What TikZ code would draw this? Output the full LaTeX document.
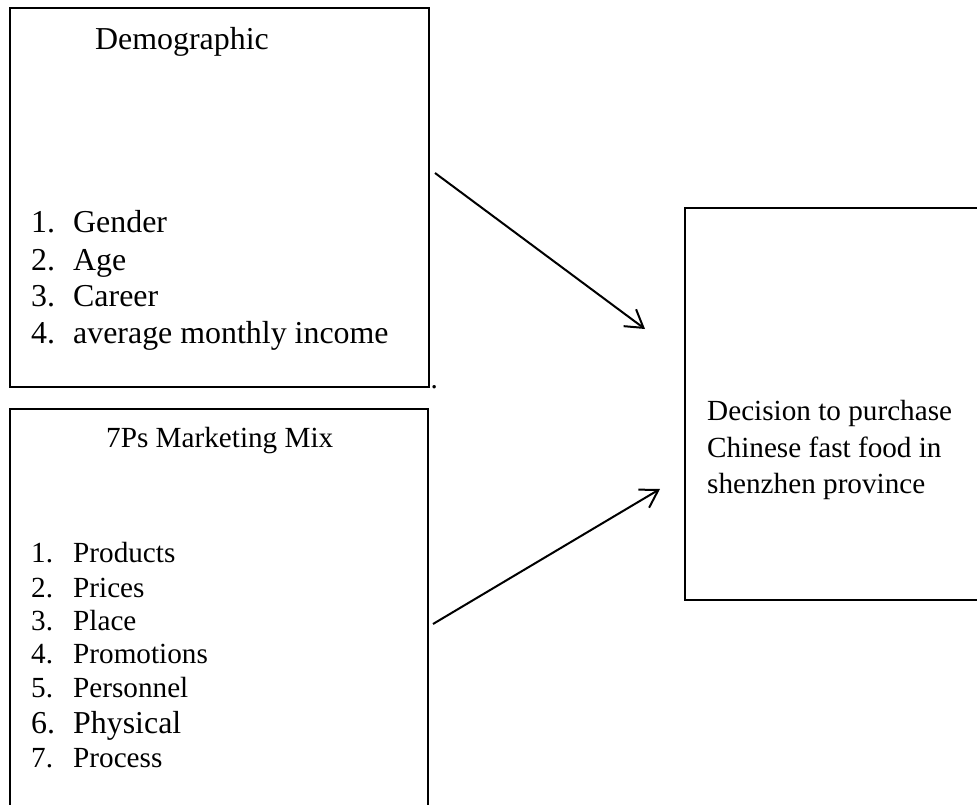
\documentclass[tikz,border=0pt]{standalone}
\usepackage{fontspec}
\setmainfont{Liberation Serif}
\usetikzlibrary{arrows.meta}
\begin{document}
\begin{tikzpicture}[x=1pt,y=-1pt,
  box/.style={draw, line width=2.2pt, rectangle, inner sep=0pt, outer sep=0pt},
  bigtxt/.style={anchor=base west, inner sep=0pt, font=\fontsize{31.9}{36}\selectfont},
  smalltxt/.style={anchor=base west, inner sep=0pt, font=\fontsize{29.2}{34}\selectfont},
  arr/.style={line width=2pt, -{Straight Barb[length=17pt,width=21pt]}}]
\useasboundingbox (0,0) rectangle (977,805);
\clip (0,0) rectangle (977,805);
% boxes
\node[box, minimum width=419pt, minimum height=379pt] (demo) at (219.5,197.5) {};
\node[box, minimum width=418pt, minimum height=430pt] (mix) at (219,624) {};
\node[box, minimum width=330pt, minimum height=392pt] (dec) at (850,404) {};
% demographic text
\node[bigtxt] (dt) at (95,50) {Demographic};
\node[bigtxt] (dn1) at (31,233) {1.};
\node[bigtxt] (dl1) at (73,233) {Gender};
\node[bigtxt] (dn2) at (31,270) {2.};
\node[bigtxt] (dl2) at (73,270) {Age};
\node[bigtxt] (dn3) at (31,306) {3.};
\node[bigtxt] (dl3) at (73,306) {Career};
\node[bigtxt] (dn4) at (31,343) {4.};
\node[bigtxt] (dl4) at (73,343) {average monthly income};
\node[smalltxt] (dot) at (430.5,388) {.};
% 7Ps text
\node[smalltxt] (mt) at (106,447) {7Ps Marketing Mix};
\node[smalltxt] (mn1) at (31,562) {1.};
\node[smalltxt] (ml1) at (73,562) {Products};
\node[smalltxt] (mn2) at (31,597) {2.};
\node[smalltxt] (ml2) at (73,597) {Prices};
\node[smalltxt] (mn3) at (31,630) {3.};
\node[smalltxt] (ml3) at (73,630) {Place};
\node[smalltxt] (mn4) at (31,663) {4.};
\node[smalltxt] (ml4) at (73,663) {Promotions};
\node[smalltxt] (mn5) at (31,697) {5.};
\node[smalltxt] (ml5) at (73,697) {Personnel};
\node[bigtxt] (mn6) at (31,733) {6.};
\node[bigtxt] (ml6) at (73,733) {Physical};
\node[smalltxt] (mn7) at (31,767) {7.};
\node[smalltxt] (ml7) at (73,767) {Process};
% decision text
\node[smalltxt] (r1) at (707,420) {Decision to purchase};
\node[smalltxt] (r2) at (707,457) {Chinese fast food in};
\node[smalltxt] (r3) at (707,493) {shenzhen province};
% connectors
\coordinate (a1s) at (435,173);
\coordinate (a1e) at (645,329);
\coordinate (a2s) at (433,624);
\coordinate (a2e) at (660,489);
\draw[arr] (a1s) -- (a1e);
\draw[arr] (a2s) -- (a2e);
\end{tikzpicture}
\end{document}
